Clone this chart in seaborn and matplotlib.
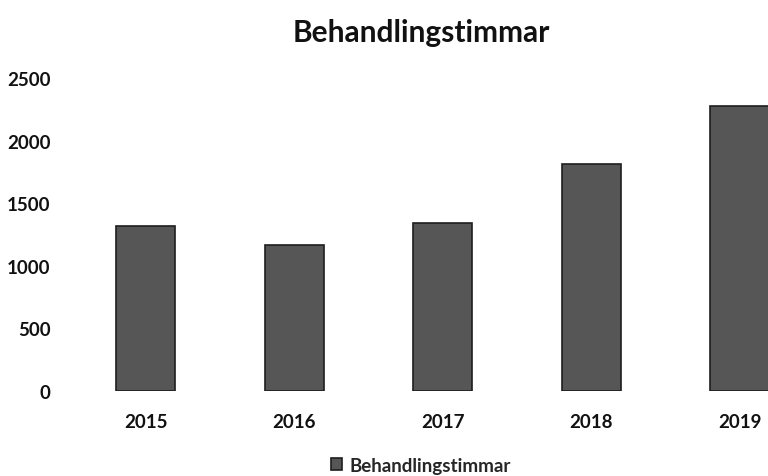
#Behandlingstimmar per year - bar chart
import pandas as pd
import matplotlib.pyplot as plt
import seaborn as sns

#Values
years = ["2015", "2016", "2017", "2018", "2019"]
hours = [1320, 1170, 1340, 1815, 2275]
series_name = "Behandlingstimmar"

df = pd.DataFrame({"year": years, "hours": hours})

sns.set_style("white")
plt.rcParams['font.family'] = ['Lato', 'DejaVu Sans']

fig = plt.figure(figsize=(7.68, 4.77), dpi=100)
ax = fig.add_axes([71.5 / 768, 1 - 392 / 477, (768 - 71.5) / 768, 313 / 477])

sns.barplot(data=df, x="year", y="hours", color="#565656", width=0.4,
            edgecolor="#1e1e1e", linewidth=1.2, saturation=1, ax=ax,
            label=series_name)

ax.set_xlim(-0.5, 4.19)
ax.set_ylim(0, 2500)
ax.set_yticks([0, 500, 1000, 1500, 2000, 2500])
ax.set_xlabel("")
ax.set_ylabel("")
sns.despine(ax=ax, left=True, bottom=True)
ax.tick_params(axis="both", length=0, labelsize=13.5, colors="#111111")
ax.tick_params(axis="y", pad=15)
ax.tick_params(axis="x", pad=16)
for lab in ax.get_xticklabels() + ax.get_yticklabels():
    lab.set_fontweight("bold")

fig.text(0.548, 0.93, "Behandlingstimmar", ha="center", va="center",
         fontsize=21.5, fontweight="bold", color="#111111")

leg = ax.legend(loc="center", bbox_to_anchor=(0.548, 0.022), bbox_transform=fig.transFigure,
                frameon=False, handlelength=0.6, handleheight=0.6, handletextpad=0.4,
                prop={"size": 13.5, "weight": "bold"})

fig.savefig("out.png", dpi=100)
